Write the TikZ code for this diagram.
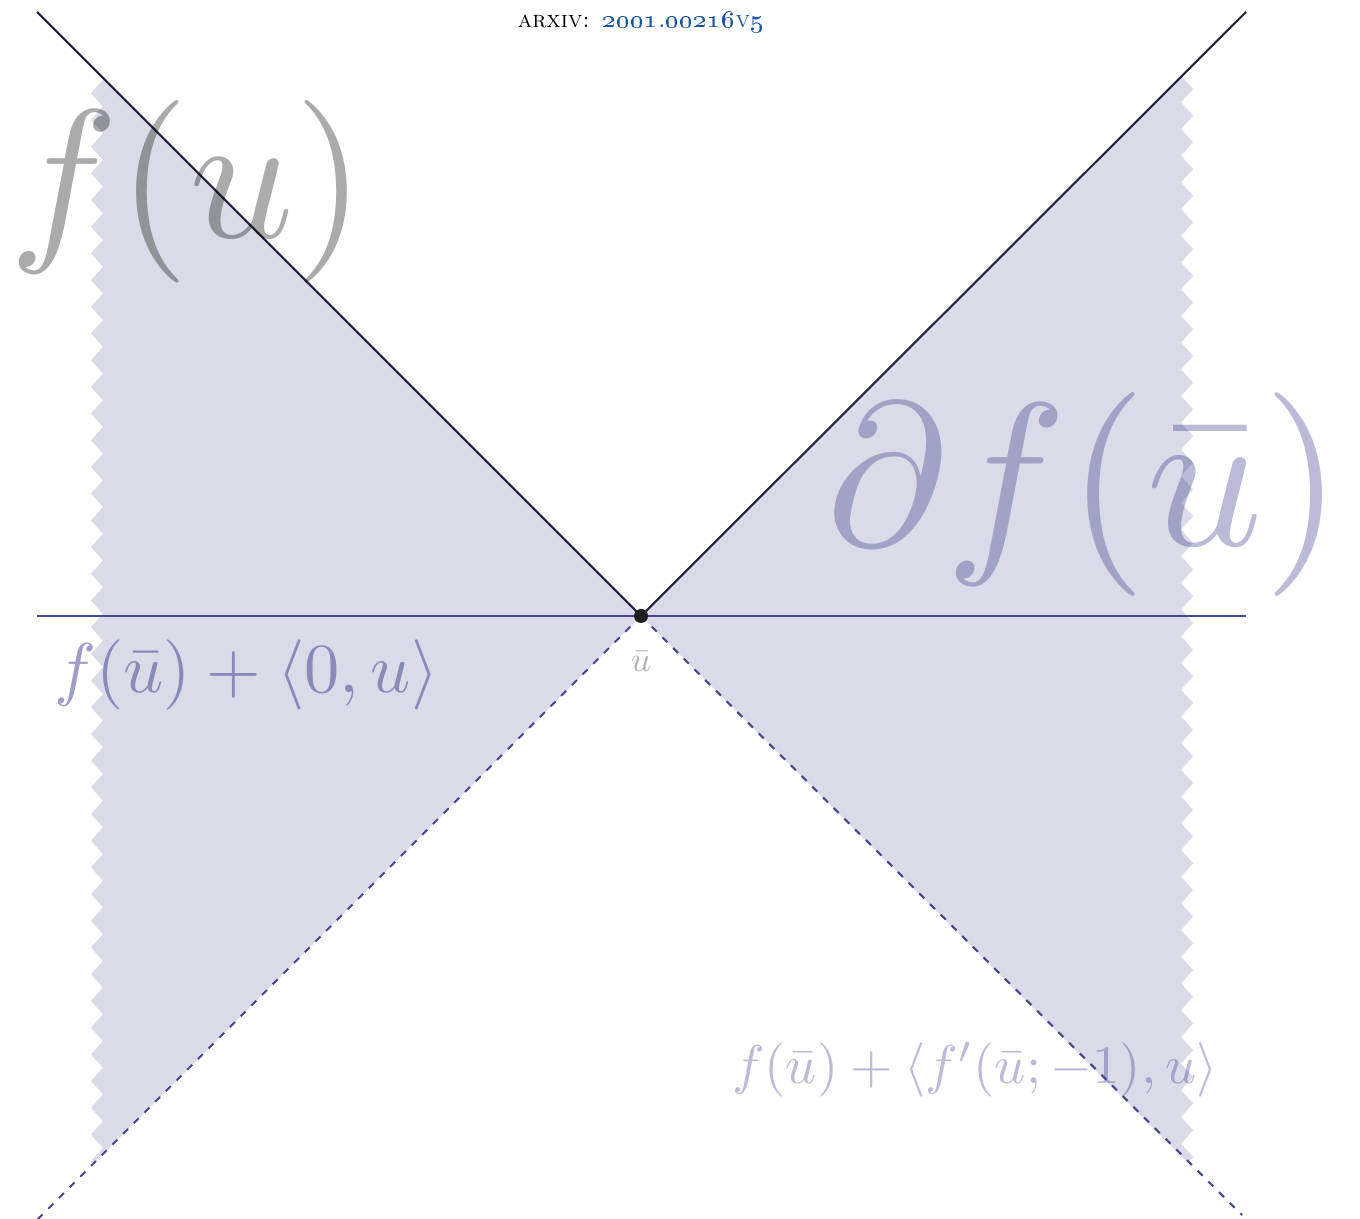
\documentclass[tikz,border=0pt]{standalone}
\usepackage{amsmath}
\usetikzlibrary{decorations.pathmorphing}

\definecolor{conefill}{RGB}{218,218,232}
\definecolor{graphline}{RGB}{35,35,60}
\definecolor{slopeblue}{RGB}{70,70,145}
\definecolor{labelpurple}{RGB}{60,60,140}
\definecolor{arxivblue}{RGB}{25,85,155}

\begin{document}
\begin{tikzpicture}[
    graphline/.style={draw=graphline, line width=0.6pt},
    flatline/.style={draw=slopeblue, line width=0.6pt},
    dirline/.style={draw=slopeblue, line width=0.6pt, dash pattern=on 2pt off 2.3pt},
    jagged/.style={decorate, decoration={zigzag, segment length=2.67mm, amplitude=0.6mm}},
    biglabel/.style={inner sep=0pt, anchor=base west, text opacity=0.33},
    cone/.style={inner sep=0pt, anchor=base west, text=labelpurple}
]
\useasboundingbox (0,0) rectangle (13.6,12.18);

% the point and the ends of the lines
\coordinate (ubar) at (6.41,6.02);
\coordinate (tl) at (0.37,12.06);
\coordinate (tr) at (12.46,12.06);
\coordinate (hl) at (0.37,6.02);
\coordinate (hr) at (12.46,6.02);
\coordinate (bl) at (0.37,-0.02);
\coordinate (br) at (12.42,0.03);

% shaded cone, cut off at both sides
\begin{scope}
    \clip[jagged] (0.97,-0.3) -- (0.97,12.5) decorate[jagged]{-- (11.87,12.5)} -- (11.87,-0.3) -- cycle;
    \fill[conefill] (ubar) -- ++(-7,7) -- ++(0,-14) -- cycle;
    \fill[conefill] (ubar) -- ++(7,7) -- ++(0,-14) -- cycle;
\end{scope}

\draw[graphline] (tl) -- (ubar) -- (tr);
\draw[flatline] (hl) -- (hr);
\draw[dirline] (ubar) -- (bl);
\draw[dirline] (ubar) -- (br);
\fill[black!88] (ubar) circle (0.07);

% labels
\node[inner sep=0pt] (title) at (6.41,11.96) {\fontsize{6.7}{8}\selectfont\textsc{arxiv:} \textcolor{arxivblue}{\oldstylenums{2001}.\oldstylenums{00216}\textsc{v}\oldstylenums{5}}};
\node[biglabel, text=black, scale=5.2] (bigf) at (0.06,9.80) {$f(u)$};
\node[cone, text opacity=0.35, scale=5.8] (subdiff) at (8.22,6.72) {$\partial f(\bar u)$};
\node[cone, text opacity=0.5, scale=2] (flatlabel) at (0.53,5.25) {$f(\bar u)+\langle 0,u\rangle$};
\node[inner sep=0pt, anchor=base, text=black, text opacity=0.3] (ubarlabel) at (6.41,5.46) {$\bar u$};
\node[cone, text opacity=0.35, scale=1.55] (dirlabel) at (7.31,1.35) {$f(\bar u)+\langle f'(\bar u;-1),u\rangle$};
\end{tikzpicture}
\end{document}
